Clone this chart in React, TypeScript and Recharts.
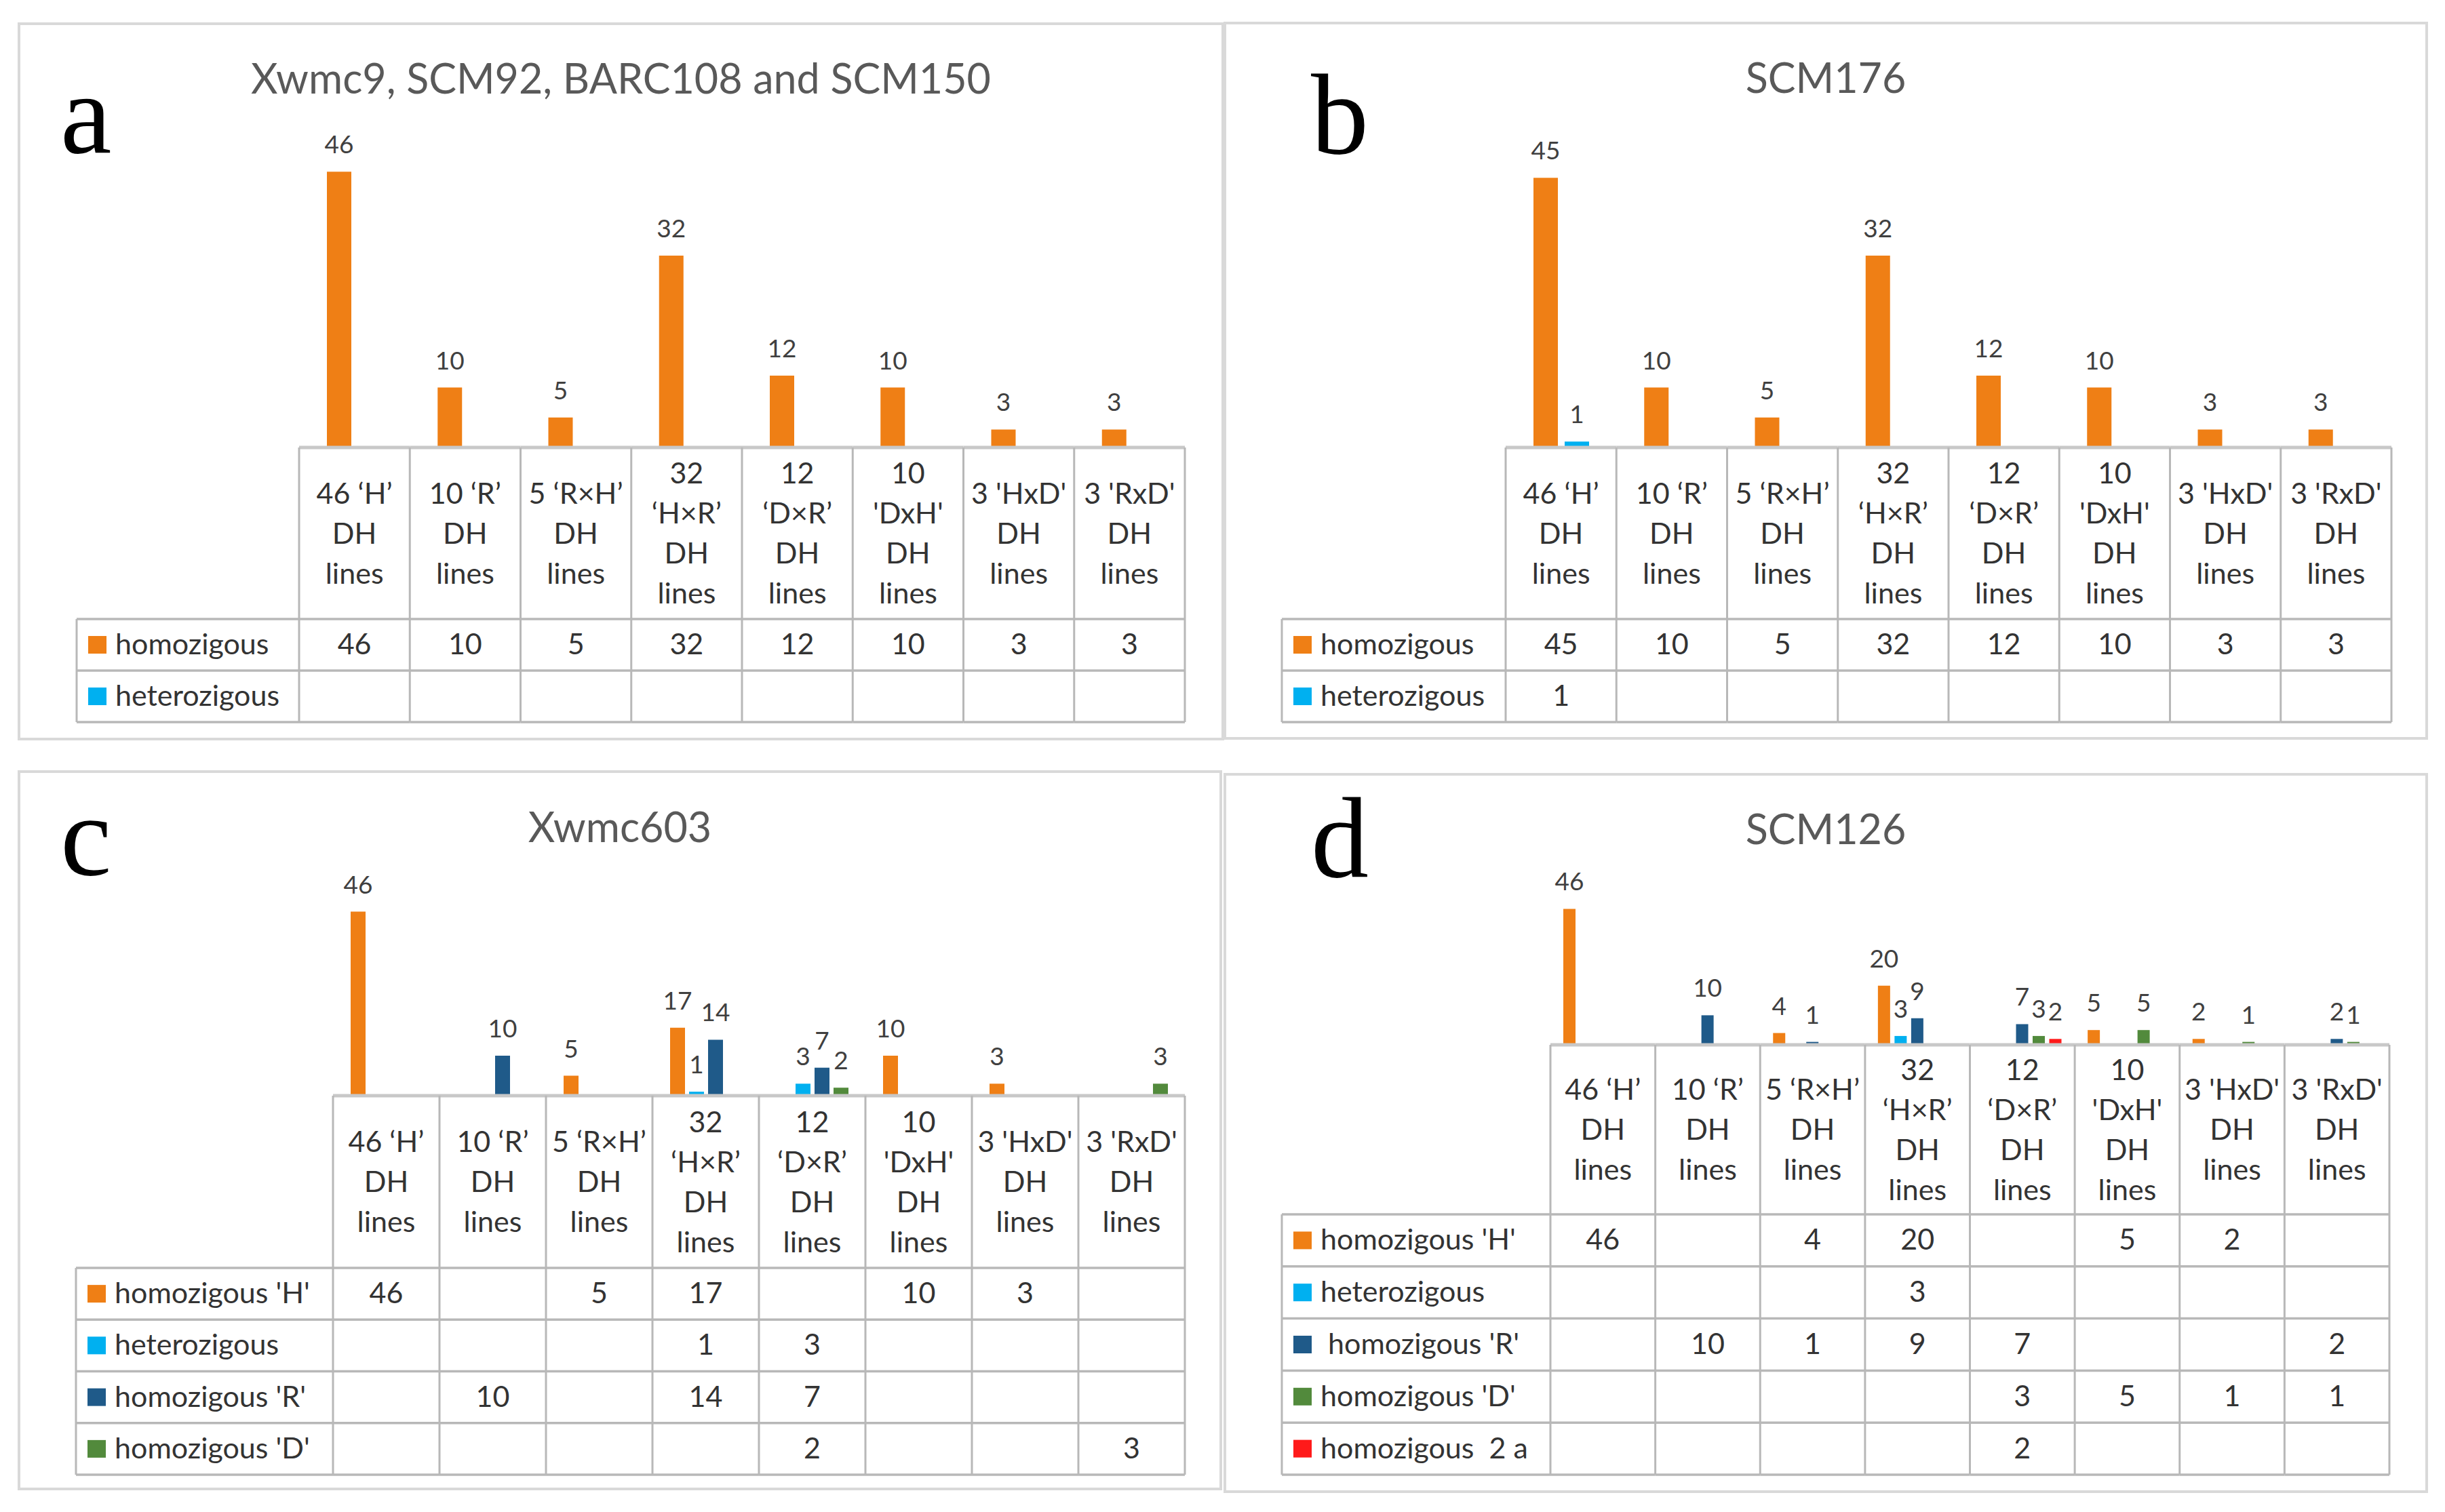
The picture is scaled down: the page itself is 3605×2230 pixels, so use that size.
import React from "react";
import { BarChart, Bar, XAxis, YAxis, LabelList } from "recharts";

// ---------- data ----------
const categories = [
  "46 ‘H’ DH lines",
  "10 ‘R’ DH lines",
  "5 ‘R×H’ DH lines",
  "32 ‘H×R’ DH lines",
  "12 ‘D×R’ DH lines",
  "10 'DxH' DH lines",
  "3 'HxD' DH lines",
  "3 'RxD' DH lines",
];
const headerLines: string[][] = [
  ["46 ‘H’", "DH", "lines"],
  ["10 ‘R’", "DH", "lines"],
  ["5 ‘R×H’", "DH", "lines"],
  ["32", "‘H×R’", "DH", "lines"],
  ["12", "‘D×R’", "DH", "lines"],
  ["10", "'DxH'", "DH", "lines"],
  ["3 'HxD'", "DH", "lines"],
  ["3 'RxD'", "DH", "lines"],
];

const titles = ["Xwmc9, SCM92, BARC108 and SCM150", "SCM176", "Xwmc603", "SCM126"];
const panelLetters = ["a", "b", "c", "d"];

const legendAB = ["homozigous", "heterozigous"];
const legendC = ["homozigous 'H'", "heterozigous", "homozigous 'R'", "homozigous 'D'"];
const legendD = ["homozigous 'H'", "heterozigous", " homozigous 'R'", "homozigous 'D'", "homozigous  2 a"];

const aHomozigous = [46, 10, 5, 32, 12, 10, 3, 3];
const aHeterozigous = [null, null, null, null, null, null, null, null];

const bHomozigous = [45, 10, 5, 32, 12, 10, 3, 3];
const bHeterozigous = [1, null, null, null, null, null, null, null];

const cHomozigousH = [46, null, 5, 17, null, 10, 3, null];
const cHeterozigous = [null, null, null, 1, 3, null, null, null];
const cHomozigousR = [null, 10, null, 14, 7, null, null, null];
const cHomozigousD = [null, null, null, null, 2, null, null, 3];

const dHomozigousH = [46, null, 4, 20, null, 5, 2, null];
const dHeterozigous = [null, null, null, 3, null, null, null, null];
const dHomozigousR = [null, 10, 1, 9, 7, null, null, 2];
const dHomozigousD = [null, null, null, null, 3, 5, 1, 1];
const dHomozigous2a = [null, null, null, null, 2, null, null, null];

const yDomain: [number, number] = [0, 50];

// ---------- styles ----------
const FONT = "Lato, 'Open Sans', sans-serif";
const SERIF = "'Liberation Serif', 'DejaVu Serif', serif";
const C_H = "#EF7F15";
const C_HET = "#00B0F0";
const C_R = "#1F5A89";
const C_D = "#528A3C";
const C_2A = "#FF1A1A";
const TEXT = "#333333";
const LABEL = "#404040";
const GRID = "#B8B8B8";
const AXIS = "#C8C8C8";
const TABLE_FS = 43;

type Series = { key: string; name: string; color: string; values: (number | null)[] };
type PanelCfg = {
  title: string;
  letter: string;
  box: [number, number, number, number];
  plotTop: number;
  baseline: number;
  tableLeft: number;
  tableRight: number;
  legendLeft: number;
  headerH: number;
  rowH: number;
  barSize: number;
  barGap: number;
  titleY: number;
  letterX: number;
  letterY: number;
  series: Series[];
};

const panels: PanelCfg[] = [
  {
    title: titles[0], letter: panelLetters[0],
    box: [28, 35, 1803, 1090], plotTop: 218, baseline: 660,
    tableLeft: 441, tableRight: 1747, legendLeft: 113, headerH: 253, rowH: 76,
    barSize: 36, barGap: 10, titleY: 138, letterX: 89, letterY: 225,
    series: [
      { key: "s0", name: legendAB[0], color: C_H, values: aHomozigous },
      { key: "s1", name: legendAB[1], color: C_HET, values: aHeterozigous },
    ],
  },
  {
    title: titles[1], letter: panelLetters[1],
    box: [1806, 34, 3578, 1089], plotTop: 218, baseline: 660,
    tableLeft: 2220, tableRight: 3526, legendLeft: 1890, headerH: 253, rowH: 76,
    barSize: 36, barGap: 10, titleY: 137, letterX: 1933, letterY: 226,
    series: [
      { key: "s0", name: legendAB[0], color: C_H, values: bHomozigous },
      { key: "s1", name: legendAB[1], color: C_HET, values: bHeterozigous },
    ],
  },
  {
    title: titles[2], letter: panelLetters[2],
    box: [28, 1138, 1800, 2196], plotTop: 1321, baseline: 1616,
    tableLeft: 491, tableRight: 1747, legendLeft: 112, headerH: 254, rowH: 76.25,
    barSize: 22, barGap: 6, titleY: 1242, letterX: 89, letterY: 1290,
    series: [
      { key: "s0", name: legendC[0], color: C_H, values: cHomozigousH },
      { key: "s1", name: legendC[1], color: C_HET, values: cHeterozigous },
      { key: "s2", name: legendC[2], color: C_R, values: cHomozigousR },
      { key: "s3", name: legendC[3], color: C_D, values: cHomozigousD },
    ],
  },
  {
    title: titles[3], letter: panelLetters[3],
    box: [1806, 1142, 3578, 2200], plotTop: 1323, baseline: 1541,
    tableLeft: 2286, tableRight: 3523, legendLeft: 1890, headerH: 250, rowH: 76.8,
    barSize: 18, barGap: 6.5, titleY: 1245, letterX: 1933, letterY: 1293,
    series: [
      { key: "s0", name: legendD[0], color: C_H, values: dHomozigousH },
      { key: "s1", name: legendD[1], color: C_HET, values: dHeterozigous },
      { key: "s2", name: legendD[2], color: C_R, values: dHomozigousR },
      { key: "s3", name: legendD[3], color: C_D, values: dHomozigousD },
      { key: "s4", name: legendD[4], color: C_2A, values: dHomozigous2a },
    ],
  },
];

const renderLabel = (props: any) => {
  const vb = props.viewBox || {};
  const x = Number(vb.x ?? props.x);
  const y = Number(vb.y ?? props.y);
  const width = Number(vb.width ?? props.width);
  const value = props.value;
  if (value === null || value === undefined || value === "" || isNaN(x) || isNaN(y)) return null;
  return (
    <text x={x + width / 2} y={y - 27} textAnchor="middle" fontSize={37} fill={LABEL} fontFamily={FONT}>
      {value}
    </text>
  );
};

function Panel({ cfg }: { cfg: PanelCfg }) {
  const [bx0, by0, bx1, by1] = cfg.box;
  const w = bx1 - bx0;
  const h = by1 - by0;
  const nRows = cfg.series.length;
  const tableBottom = cfg.baseline + cfg.headerH + nRows * cfg.rowH;
  const margin = {
    top: cfg.plotTop - by0,
    left: cfg.tableLeft - bx0,
    right: bx1 - cfg.tableRight,
    bottom: by1 - tableBottom,
  };
  const axisH = tableBottom - cfg.baseline;
  const data = categories.map((c, i) => {
    const row: any = { cat: c };
    cfg.series.forEach((s) => {
      row[s.key] = s.values[i];
    });
    return row;
  });
  const colW = (cfg.tableRight - cfg.tableLeft) / categories.length;
  const legendW = cfg.tableLeft - cfg.legendLeft;

  const tick = (p: any) => {
    const x = Number(p.x);
    const y = Number(p.y);
    const index: number = p.index ?? p.payload?.index ?? 0;
    const left = x - colW / 2;
    const right = x + colW / 2;
    const hy = y + cfg.headerH;
    const bottom = hy + nRows * cfg.rowH;
    const lines = headerLines[index] || [];
    const els: any[] = [];
    lines.forEach((t, i) => {
      els.push(
        <text key={`h${i}`} x={x} y={y + cfg.headerH / 2 + 15 + (i - (lines.length - 1) / 2) * 59}
          textAnchor="middle" fontSize={TABLE_FS} fontFamily={FONT} fill={TEXT}>{t}</text>
      );
    });
    els.push(<line key="top" x1={left} x2={right} y1={y} y2={y} stroke={AXIS} strokeWidth={5} />);
    for (let k = 0; k <= nRows; k++) {
      const yy = hy + k * cfg.rowH;
      els.push(<line key={`r${k}`} x1={left} x2={right} y1={yy} y2={yy} stroke={GRID} strokeWidth={3.5} />);
    }
    els.push(<line key="vl" x1={left} x2={left} y1={y} y2={bottom} stroke={GRID} strokeWidth={3} />);
    if (index === categories.length - 1) {
      els.push(<line key="vr" x1={right} x2={right} y1={y} y2={bottom} stroke={GRID} strokeWidth={3} />);
    }
    cfg.series.forEach((s, k) => {
      const v = data[index] ? data[index][s.key] : null;
      if (v !== null && v !== undefined) {
        els.push(
          <text key={`v${k}`} x={x} y={hy + (k + 0.5) * cfg.rowH + 14} textAnchor="middle"
            fontSize={TABLE_FS} fontFamily={FONT} fill={TEXT}>{v}</text>
        );
      }
    });
    if (index === 0) {
      const lx = left - legendW;
      for (let k = 0; k <= nRows; k++) {
        const yy = hy + k * cfg.rowH;
        els.push(<line key={`lr${k}`} x1={lx} x2={left} y1={yy} y2={yy} stroke={GRID} strokeWidth={3.5} />);
      }
      els.push(<line key="lvl" x1={lx} x2={lx} y1={hy} y2={bottom} stroke={GRID} strokeWidth={3} />);
      cfg.series.forEach((s, k) => {
        const cy = hy + (k + 0.5) * cfg.rowH;
        els.push(<rect key={`ls${k}`} x={lx + 17} y={cy - 13} width={27} height={26} fill={s.color} />);
        els.push(
          <text key={`lt${k}`} x={lx + 57} y={cy + 14} fontSize={TABLE_FS} fontFamily={FONT} fill={TEXT}
            style={{ whiteSpace: "pre" }}>{s.name}</text>
        );
      });
    }
    return <g>{els}</g>;
  };

  return (
    <div style={{ position: "absolute", left: bx0, top: by0, width: w, height: h }}>
      <BarChart width={w} height={h} data={data} margin={margin} barGap={cfg.barGap} barSize={cfg.barSize}>
        <XAxis dataKey="cat" type="category" interval={0} height={axisH} axisLine={false}
          tickLine={false} tickSize={0} tickMargin={0} tick={tick} />
        <YAxis hide type="number" domain={yDomain} />
        {cfg.series.map((s) => (
          <Bar key={s.key} dataKey={s.key} name={s.name} fill={s.color} isAnimationActive={false}>
            <LabelList dataKey={s.key} content={renderLabel} />
          </Bar>
        ))}
      </BarChart>
    </div>
  );
}

export default function App() {
  return (
    <div style={{ position: "absolute", left: 0, top: 0, width: 3605, height: 2230, background: "#ffffff", overflow: "hidden" }}>
      <svg width={3605} height={2230} style={{ position: "absolute", left: 0, top: 0 }}>
        {panels.map((cfg, i) => {
          const [x0, y0, x1, y1] = cfg.box;
          return (
            <g key={i}>
              <rect x={x0} y={y0} width={x1 - x0} height={y1 - y0} fill="#ffffff" stroke="#D9D9D9" strokeWidth={4} />
              <text x={(x0 + x1) / 2} y={cfg.titleY} textAnchor="middle" fontSize={61} fontFamily={FONT} fill="#595959">
                {cfg.title}
              </text>
              <text x={cfg.letterX} y={cfg.letterY} fontSize={170} fontFamily={SERIF} fill="#000000">
                {cfg.letter}
              </text>
            </g>
          );
        })}
      </svg>
      {panels.map((cfg, i) => (
        <Panel key={i} cfg={cfg} />
      ))}
    </div>
  );
}
